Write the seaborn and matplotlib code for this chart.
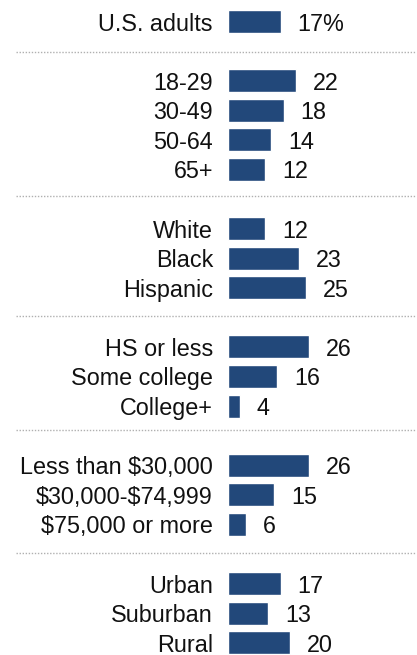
import matplotlib
matplotlib.use("Agg")
import matplotlib.pyplot as plt
import matplotlib.transforms as mtransforms
import pandas as pd
import seaborn as sns

# Share of adults in each group
groups = [
    ["U.S. adults"],
    ["18-29", "30-49", "50-64", "65+"],
    ["White", "Black", "Hispanic"],
    ["HS or less", "Some college", "College+"],
    ["Less than $30,000", "$30,000-$74,999", "$75,000 or more"],
    ["Urban", "Suburban", "Rural"],
]
values = [
    [17],
    [22, 18, 14, 12],
    [12, 23, 25],
    [26, 16, 4],
    [26, 15, 6],
    [17, 13, 20],
]

# Lay rows out top to bottom, leaving one empty row between groups
labels, vals, pos, seps = [], [], [], []
row = 0
for gi, (g, v) in enumerate(zip(groups, values)):
    if gi > 0:
        seps.append(row)
        row += 1
    for lab, val in zip(g, v):
        labels.append(lab)
        vals.append(val)
        pos.append(row)
        row += 1

df = pd.DataFrame({"label": labels, "value": vals, "pos": pos})

sns.set_theme(style="white")
plt.rcParams["font.family"] = ["Liberation Sans", "DejaVu Sans"]
plt.rcParams["text.parse_math"] = False

FS = 16.8
W, H = 417, 655
fig = plt.figure(figsize=(W / 100, H / 100), dpi=100)
left_px = 227.5
ax = fig.add_axes([left_px / W, 0, (W - left_px) / W, 1])

bar_color = "#22487a"
sns.barplot(data=df, x="value", y="pos", orient="h", native_scale=True,
            color=bar_color, saturation=1, width=0.78, ax=ax, errorbar=None)

ax.set_xlim(0, (W - left_px) / 3.12)
ax.set_ylim(row - 1 + 0.416, -0.727)

ax.set_yticks(pos)
ax.set_yticklabels(labels, fontsize=FS, color="#111111")
ax.tick_params(axis="y", length=0, pad=10.5)
ax.set_xticks([])
ax.set_xlabel("")
ax.set_ylabel("")
for s in ax.spines.values():
    s.set_visible(False)

# Value labels just past each bar
for i, (v, p) in enumerate(zip(vals, pos)):
    txt = f"{v}%" if i == 0 else f"{v}"
    ax.annotate(txt, xy=(v, p), xytext=(12.2, 0), textcoords="offset points",
                va="center_baseline", ha="left", fontsize=FS, color="#111111")

# Dotted separators between groups
sep_offsets = [0.03, -0.1, -0.04, -0.19, -0.03]
trans = mtransforms.blended_transform_factory(fig.transFigure, ax.transData)
for s, off in zip(seps, sep_offsets):
    ax.plot([16 / W, 416 / W], [s + off, s + off], transform=trans,
            color="#b0b0b0", linewidth=1.0, linestyle=(0, (1, 1.2)),
            clip_on=False)

fig.savefig("out.png", dpi=100)
